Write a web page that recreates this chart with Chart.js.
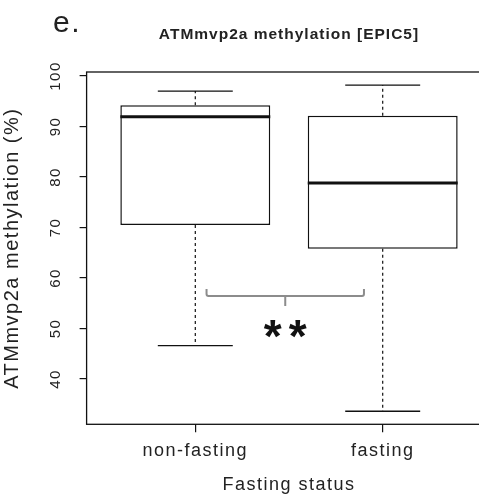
<!DOCTYPE html>
<html>
<head>
<meta charset="utf-8">
<script src="https://cdn.jsdelivr.net/npm/chart.js@4.4.1/dist/chart.umd.min.js"></script>
<style>
  html, body { margin: 0; padding: 0; background: #fff; }
  #wrap { width: 479px; height: 497px; overflow: hidden; }
  canvas { display: block; }
</style>
</head>
<body>
<div id="wrap"><canvas id="box" width="578" height="497"></canvas></div>
<script>
// box statistics per fasting group (methylation %)
const categories = ['non-fasting', 'fasting'];
const whiskerLow = [46.6, 33.6];
const quartile1 = [70.5, 65.8];
const medians = [91.9, 78.8];
const quartile3 = [94.2, 92.1];
const whiskerHigh = [97.0, 98.2];
const yTicks = [40, 50, 60, 70, 80, 90, 100];

// significance bracket between the groups
const bracket = { from: 1.06, to: 1.9, at: 56.4, label: '**' };
const mainTitle = 'ATMmvp2a methylation [EPIC5]';

const FONT = "'Liberation Sans', Arial, sans-serif";
const INK = '#111';
const TEXT = '#222';

// axis limits the way R pads them (4% each side)
const lo = Math.min(...whiskerLow), hi = Math.max(...whiskerHigh);
const yPad = (hi - lo) * 0.04;
const xPad = categories.length * 0.04;

const spacing = {
  id: 'spacing',
  beforeUpdate(chart) { chart.ctx.letterSpacing = '1.5px'; },
  beforeDraw(chart) { chart.ctx.letterSpacing = '1.5px'; }
};

const boxParts = {
  id: 'boxParts',
  afterDatasetsDraw(chart) {
    const { ctx, chartArea: a, scales: { x, y } } = chart;
    const bars = chart.getDatasetMeta(0).data;
    ctx.save();
    ctx.strokeStyle = INK;
    bars.forEach((bar, i) => {
      const half = bar.width / 2;
      const yHigh = y.getPixelForValue(whiskerHigh[i]);
      const yLow = y.getPixelForValue(whiskerLow[i]);
      // dashed whiskers
      ctx.setLineDash([3, 3]);
      ctx.lineWidth = 1.2;
      ctx.beginPath();
      ctx.moveTo(bar.x, y.getPixelForValue(quartile3[i]));
      ctx.lineTo(bar.x, yHigh);
      ctx.moveTo(bar.x, y.getPixelForValue(quartile1[i]));
      ctx.lineTo(bar.x, yLow);
      ctx.stroke();
      // staples at half the box width
      ctx.setLineDash([]);
      ctx.lineWidth = 1.3;
      ctx.beginPath();
      ctx.moveTo(bar.x - half / 2, yHigh);
      ctx.lineTo(bar.x + half / 2, yHigh);
      ctx.moveTo(bar.x - half / 2, yLow);
      ctx.lineTo(bar.x + half / 2, yLow);
      ctx.stroke();
      // thick median
      const yMed = y.getPixelForValue(medians[i]);
      ctx.lineWidth = 3;
      ctx.beginPath();
      ctx.moveTo(bar.x - half, yMed);
      ctx.lineTo(bar.x + half, yMed);
      ctx.stroke();
    });

    // plot frame
    ctx.lineWidth = 1.3;
    ctx.strokeRect(a.left, a.top, a.right - a.left, a.bottom - a.top);

    // bracket with centre nib
    const x1 = x.getPixelForValue(bracket.from);
    const x2 = x.getPixelForValue(bracket.to);
    const cx = (x1 + x2) / 2;
    const yb = y.getPixelForValue(bracket.at);
    ctx.strokeStyle = '#8c8c8c';
    ctx.lineWidth = 2;
    ctx.beginPath();
    ctx.moveTo(x1, yb - 7);
    ctx.lineTo(x1, yb - 2);
    ctx.quadraticCurveTo(x1, yb, x1 + 2, yb);
    ctx.lineTo(x2 - 2, yb);
    ctx.quadraticCurveTo(x2, yb, x2, yb - 2);
    ctx.lineTo(x2, yb - 7);
    ctx.moveTo(cx, yb);
    ctx.lineTo(cx, yb + 10);
    ctx.stroke();

    // stars, each centred on its ink box
    ctx.letterSpacing = '0px';
    ctx.fillStyle = INK;
    ctx.font = 'bold 46px ' + FONT;
    ctx.textAlign = 'left';
    ctx.textBaseline = 'alphabetic';
    const stars = bracket.label.split('');
    stars.forEach((s, k) => {
      const m = ctx.measureText(s);
      const sx = cx + (k - (stars.length - 1) / 2) * 25;
      const sy = yb + 33;
      ctx.fillText(s,
        sx - (m.actualBoundingBoxRight - m.actualBoundingBoxLeft) / 2,
        sy + (m.actualBoundingBoxAscent - m.actualBoundingBoxDescent) / 2);
    });

    // main title centred over the plot region, and the panel letter
    ctx.letterSpacing = '1px';
    ctx.fillStyle = TEXT;
    ctx.font = 'bold 15.5px ' + FONT;
    ctx.textAlign = 'center';
    ctx.textBaseline = 'middle';
    ctx.fillText(mainTitle, (a.left + a.right) / 2, 35);
    ctx.letterSpacing = '1.5px';
    ctx.font = '30px ' + FONT;
    ctx.textAlign = 'left';
    ctx.textBaseline = 'alphabetic';
    ctx.fillText('e.', 53, 32);
    ctx.restore();
  }
};

new Chart(document.getElementById('box'), {
  type: 'bar',
  data: {
    datasets: [{
      data: categories.map((c, i) => ({ x: i + 1, y: [quartile1[i], quartile3[i]] })),
      backgroundColor: '#fff',
      borderColor: INK,
      borderWidth: 1.5,
      borderSkipped: false,
      barPercentage: 0.8,
      categoryPercentage: 1
    }]
  },
  options: {
    responsive: false,
    animation: false,
    devicePixelRatio: 1,
    layout: { padding: { left: 0, right: 86.6, top: 72, bottom: 0 } },
    plugins: {
      legend: { display: false },
      tooltip: { enabled: false }
    },
    scales: {
      x: {
        type: 'linear',
        offset: false,
        min: 0.5 - xPad,
        max: categories.length + 0.5 + xPad,
        afterBuildTicks: s => { s.ticks = categories.map((c, i) => ({ value: i + 1 })); },
        afterFit: s => { s.height = 72.7; },
        grid: { offset: false, drawOnChartArea: false, tickLength: 8, color: INK, lineWidth: 1.2 },
        border: { display: false },
        ticks: {
          callback: v => categories[v - 1],
          font: { family: FONT, size: 18 },
          color: TEXT,
          maxRotation: 0,
          autoSkip: false,
          padding: 8
        },
        title: {
          display: true,
          text: 'Fasting status',
          color: TEXT,
          font: { family: FONT, size: 18 },
          padding: { top: 0, bottom: 1.2 }
        }
      },
      y: {
        min: lo - yPad,
        max: hi + yPad,
        afterBuildTicks: s => { s.ticks = yTicks.map(v => ({ value: v })); },
        afterFit: s => { s.width = 86.6; },
        grid: { drawOnChartArea: false, tickLength: 7, color: INK, lineWidth: 1.2 },
        border: { display: false },
        ticks: {
          font: { family: FONT, size: 15 },
          color: TEXT,
          minRotation: 90,
          maxRotation: 90,
          crossAlign: 'center',
          padding: 9
        },
        title: {
          display: true,
          text: 'ATMmvp2a methylation (%)',
          color: TEXT,
          font: { family: FONT, size: 20 },
          padding: { top: 0, bottom: 0 }
        }
      }
    }
  },
  plugins: [spacing, boxParts]
});
</script>
</body>
</html>
